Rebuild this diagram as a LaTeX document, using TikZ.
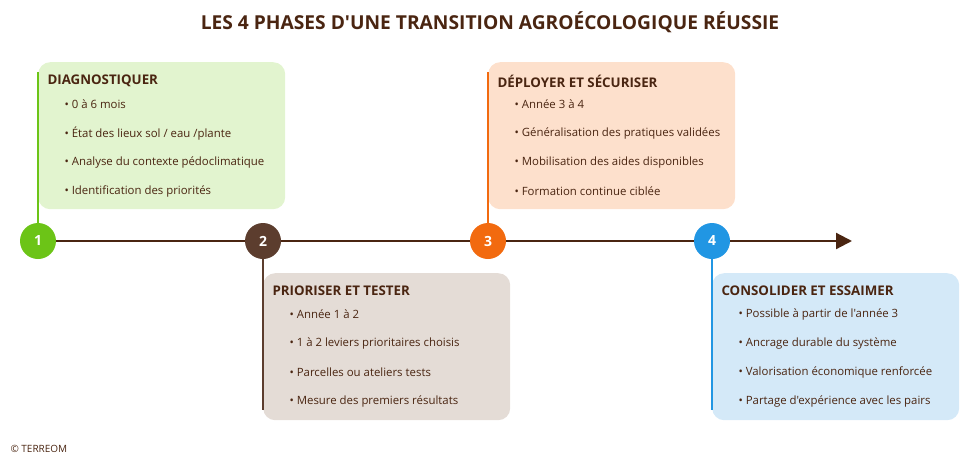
\documentclass[tikz,border=0pt]{standalone}
\usepackage{fontspec}
\setmainfont{Open Sans}[Ligatures=TeXOff]
\usetikzlibrary{arrows.meta}
\definecolor{dbrown}{HTML}{4A2511}
\definecolor{cgreen}{HTML}{6CC417}
\definecolor{cbrown}{HTML}{5C3D2E}
\definecolor{corange}{HTML}{F26A0F}
\definecolor{cblue}{HTML}{2196E3}
\definecolor{fgreen}{HTML}{E2F4CF}
\definecolor{fbrown}{HTML}{E4DCD6}
\definecolor{forange}{HTML}{FDE0CC}
\definecolor{fblue}{HTML}{D4E9F8}
\begin{document}
\begin{tikzpicture}[x=1pt,y=-1pt,
 box/.style={rounded corners=12pt,minimum width=247pt,minimum height=147pt,anchor=north west,inner sep=0pt},
 circ/.style={circle,minimum size=36pt,inner sep=0pt,text=white,font=\fontsize{14}{16}\selectfont\bfseries},
 head/.style={anchor=west,text=dbrown,font=\fontsize{13.3}{15}\selectfont\bfseries},
 item/.style={anchor=west,text=dbrown,font=\fontsize{11.4}{13}\selectfont},
 vline/.style={line width=2pt}]
\useasboundingbox (0,0) rectangle (980,471);
\node[text=dbrown,font=\fontsize{19.2}{22}\selectfont\bfseries] (title) at (490,22) {LES 4 PHASES D'UNE TRANSITION AGROÉCOLOGIQUE RÉUSSIE};
% boxes
\node[box,fill=fgreen] (b1) at (38,62) {};
\node[box,fill=fbrown] (b2) at (263,273) {};
\node[box,fill=forange] (b3) at (488,62) {};
\node[box,fill=fblue] (b4) at (712,273) {};
% timeline
\coordinate (tend) at (852,241);
\node[circ,fill=cgreen] (c1) at (38,241) {1};
\node[circ,fill=cbrown] (c2) at (263,241) {2};
\node[circ,fill=corange] (c3) at (488,241) {3};
\node[circ,fill=cblue] (c4) at (712,241) {4};
\draw[dbrown,line width=2.2pt,-{Triangle[length=16pt,width=16pt]}] (c1.east) -- (c2.west) (c2.east) -- (c3.west) (c3.east) -- (c4.west) (c4.east) -- (tend);
\coordinate (v1) at (38,72); \coordinate (v2) at (263,410);
\coordinate (v3) at (488,72); \coordinate (v4) at (712,410);
\draw[vline,cgreen] (c1.north) -- (v1);
\draw[vline,cbrown] (c2.south) -- (v2);
\draw[vline,corange] (c3.north) -- (v3);
\draw[vline,cblue] (c4.south) -- (v4);
% texts
\newcommand{\phasetext}[5]{%
 \node[head] (#1h) at (#2+6,#3) {#4};
 \foreach \t [count=\i] in {#5} {
  \node[item] (#1i\i) at (#2+23,#3+23.5+\i*29-29) {•\hspace{3pt}\t};
 }}
\phasetext{p1}{38}{81}{DIAGNOSTIQUER}{0 à 6 mois,État des lieux sol / eau /plante,Analyse du contexte pédoclimatique,Identification des priorités}
\phasetext{p2}{263}{291}{PRIORISER ET TESTER}{Année 1 à 2,1 à 2 leviers prioritaires choisis,Parcelles ou ateliers tests,Mesure des premiers résultats}
\phasetext{p3}{488}{81}{DÉPLOYER ET SÉCURISER}{Année 3 à 4,Généralisation des pratiques validées,Mobilisation des aides disponibles,Formation continue ciblée}
\phasetext{p4}{712}{291}{CONSOLIDER ET ESSAIMER}{Possible à partir de l'année 3,Ancrage durable du système,Valorisation économique renforcée,Partage d'expérience avec les pairs}
\node[anchor=west,text=dbrown,font=\fontsize{10}{12}\selectfont] (copy) at (7,449) {© TERREOM};
\end{tikzpicture}
\end{document}
